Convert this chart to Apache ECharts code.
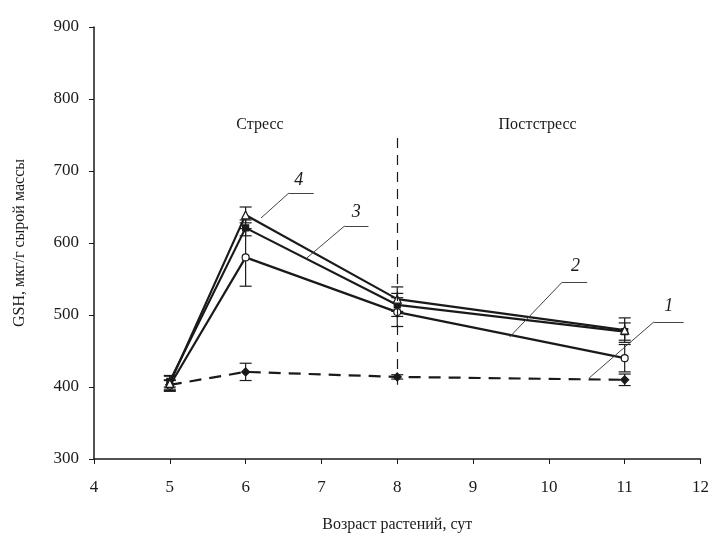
<!DOCTYPE html>
<html><head><meta charset="utf-8">
<script src="https://cdn.jsdelivr.net/npm/echarts@6/dist/echarts.min.js"></script>
<style>html,body{margin:0;padding:0;background:#fff}#c{width:712px;height:538px}</style>
</head><body><div id="c"></div>
<script>
const days = [5, 6, 8, 11];
const xTicks = [4, 5, 6, 7, 8, 9, 10, 11, 12];
const yTicks = [300, 400, 500, 600, 700, 800, 900];
const s1 = [403, 421, 414, 410];
const e1 = [6, 12, 3, 8];
const s2 = [402, 580, 504, 440];
const e2 = [8, 40, 20, 19];
const s3 = [408, 621, 514, 477];
const e3 = [8, 11, 16, 12];
const s4 = [405, 639, 522, 479];
const e4 = [10, 11, 17, 17];
const phaseLabels = ['Стресс', 'Постстресс'];
const seriesLabels = ['1', '2', '3', '4'];

const FONT = 'Liberation Serif';
const INK = '#1a1a1a';

function pts(v) { return days.map((d, i) => [d, v[i]]); }
function errs(v, e) { return days.map((d, i) => [d, v[i] - e[i], v[i] + e[i]]); }

function errSeries(v, e) {
  return {
    type: 'custom', silent: true, z: 1,
    data: errs(v, e),
    renderItem: function (params, api) {
      const x = api.value(0);
      const lo = api.coord([x, api.value(1)]);
      const hi = api.coord([x, api.value(2)]);
      const w = 6;
      const st = { stroke: INK, lineWidth: 1.2 };
      return { type: 'group', children: [
        { type: 'line', shape: { x1: lo[0], y1: lo[1], x2: hi[0], y2: hi[1] }, style: st },
        { type: 'line', shape: { x1: lo[0] - w, y1: lo[1], x2: lo[0] + w, y2: lo[1] }, style: st },
        { type: 'line', shape: { x1: hi[0] - w, y1: hi[1], x2: hi[0] + w, y2: hi[1] }, style: st }
      ]};
    }
  };
}

function leader(pointsArr) {
  const segs = [];
  for (let i = 0; i < pointsArr.length - 1; i++) {
    segs.push([{ coord: pointsArr[i] }, { coord: pointsArr[i + 1] }]);
  }
  return segs;
}

const chart = echarts.init(document.getElementById('c'));
const lineSeries = (name, v, symbol, filled, dashed, extra) => Object.assign({
  name: name, type: 'line', data: pts(v), z: 3,
  symbol: symbol, symbolSize: 7, showSymbol: true,
  lineStyle: { color: INK, width: 2.2, type: dashed ? [12, 8] : 'solid' },
  itemStyle: { color: filled ? INK : '#fff', borderColor: INK, borderWidth: 1.2 }
}, extra || {});

chart.setOption({
  animation: false,
  backgroundColor: '#fff',
  grid: { left: 94, right: 8, top: 27, bottom: 79, containLabel: false },
  xAxis: {
    type: 'value', min: xTicks[0], max: xTicks[xTicks.length - 1], interval: 1,
    name: 'Возраст растений, сут', nameLocation: 'middle', nameGap: 58,
    nameTextStyle: { fontFamily: FONT, fontSize: 16, color: INK },
    axisLine: { show: true, onZero: false, lineStyle: { color: INK, width: 1.5 } },
    axisTick: { show: true, length: 5, lineStyle: { color: INK } },
    axisLabel: { fontFamily: FONT, fontSize: 17, color: INK, margin: 20 },
    splitLine: { show: false }
  },
  yAxis: {
    type: 'value', min: yTicks[0], max: yTicks[yTicks.length - 1], interval: 100,
    name: 'GSH, мкг/г сырой массы', nameLocation: 'middle', nameGap: 66, nameRotate: 90,
    nameTextStyle: { fontFamily: FONT, fontSize: 16, color: INK },
    axisLine: { show: true, onZero: false, lineStyle: { color: INK, width: 1.5 } },
    axisTick: { show: true, length: 5, lineStyle: { color: INK } },
    axisLabel: { fontFamily: FONT, fontSize: 17, color: INK, margin: 15 },
    splitLine: { show: false }
  },
  series: [
    errSeries(s1, e1), errSeries(s2, e2), errSeries(s3, e3), errSeries(s4, e4),
    lineSeries('1', s1, 'diamond', true, true, { symbolSize: 8,
      markLine: {
        silent: true, symbol: 'none', label: { show: false },
        lineStyle: { color: INK, width: 1.2, type: [10, 7] },
        data: [[{ coord: [8, 746] }, { coord: [8, 403] }]]
      },
      markPoint: {
        silent: true, symbol: 'rect', symbolSize: 0,
        label: { show: true, fontFamily: FONT, fontSize: 16, color: INK },
        data: [
          { coord: [6.19, 764], value: phaseLabels[0], label: { formatter: phaseLabels[0] } },
          { coord: [9.85, 764], value: phaseLabels[1], label: { formatter: phaseLabels[1] } }
        ]
      }
    }),
    lineSeries('2', s2, 'circle', false, false),
    lineSeries('3', s3, 'rect', true, false, { symbolSize: 6 }),
    lineSeries('4', s4, 'triangle', false, false, { symbolSize: 8,
      markLine: {
        silent: true, symbol: 'none', label: { show: false },
        lineStyle: { color: '#444', width: 1, type: 'solid' },
        data: [].concat(
          leader([[6.203, 634.7], [6.570, 669.4], [6.898, 669.4]]),
          leader([[6.807, 579.2], [7.305, 623.6], [7.620, 623.6]]),
          leader([[9.482, 469.4], [10.177, 545.8], [10.505, 545.8]]),
          leader([[10.531, 412.5], [11.384, 490.3], [11.777, 490.3]])
        )
      },
      markPoint: {
        silent: true, symbol: 'rect', symbolSize: 0,
        label: { show: true, fontFamily: FONT, fontSize: 18, fontStyle: 'italic', color: INK },
        data: [
          { coord: [11.58, 512.5], label: { formatter: seriesLabels[0] } },
          { coord: [10.35, 568], label: { formatter: seriesLabels[1] } },
          { coord: [7.46, 643], label: { formatter: seriesLabels[2] } },
          { coord: [6.70, 687.5], label: { formatter: seriesLabels[3] } }
        ]
      }
    })
  ]
});
</script>
</body></html>
